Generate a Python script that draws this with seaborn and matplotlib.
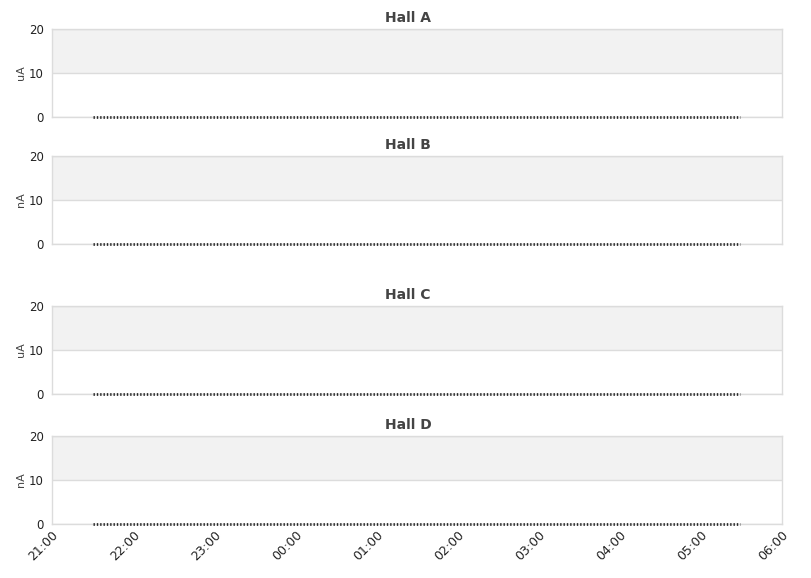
import matplotlib
matplotlib.use("Agg")
import matplotlib.pyplot as plt
import matplotlib.dates as mdates
import seaborn as sns
import pandas as pd

halls = ["Hall A", "Hall B", "Hall C", "Hall D"]
units = ["uA", "nA", "uA", "nA"]
times = ["2024-01-01 21:30", "2024-01-02 05:29"]
values_a = [0, 0]
values_b = [0, 0]
values_c = [0, 0]
values_d = [0, 0]
series = [values_a, values_b, values_c, values_d]
x_start = "2024-01-01 21:00"
x_end = "2024-01-02 06:00"
y_ticks = [0, 10, 20]

sns.set_theme(style="white")
plt.rcParams['font.family'] = ['DejaVu Sans']

W, H = 811, 578
fig = plt.figure(figsize=(W / 100, H / 100), dpi=100)

# panel tops/bottoms in pixels
panels = [(29, 117), (156, 244), (306, 394), (436, 524)]
left_px, right_px = 52, 782

grid_col = "#dcdcdc"
for i, (name, unit, vals, (top, bot)) in enumerate(zip(halls, units, series, panels)):
    ax = fig.add_axes([left_px / W, 1 - bot / H, (right_px - left_px) / W, (bot - top) / H])
    df = pd.DataFrame({"time": pd.to_datetime(times), "value": vals})
    ax.axhspan(10, 20, color="#f2f2f2", zorder=0, lw=0)
    for yv in y_ticks:
        ax.axhline(yv, color=grid_col, lw=1, zorder=1)
    sns.lineplot(data=df, x="time", y="value", ax=ax, color="#2a2a2a", lw=2.0,
                 zorder=3)
    ax.lines[-1].set_dashes((0.5, 0.7))
    ax.lines[-1].set_clip_on(False)
    ax.set_xlim(pd.Timestamp(x_start), pd.Timestamp(x_end))
    ax.set_ylim(0, 20)
    ax.set_yticks(y_ticks)
    ax.set_ylabel(unit, fontsize=8, color="#444444", labelpad=2)
    ax.set_xlabel("")
    for s in ax.spines.values():
        s.set_color(grid_col)
        s.set_linewidth(1)
    ax.tick_params(axis="y", length=0, labelsize=8.5, colors="#222222", pad=6)
    ax.xaxis.set_major_locator(mdates.HourLocator())
    ax.xaxis.set_major_formatter(mdates.DateFormatter("%H:%M"))
    if i < 3:
        ax.tick_params(axis="x", length=0, labelbottom=False)
    else:
        ax.tick_params(axis="x", length=0, labelsize=9, colors="#222222", pad=3)
        for lab in ax.get_xticklabels():
            lab.set_rotation(45)
            lab.set_ha("right")
            lab.set_rotation_mode("anchor")
    fig.text(408 / W, 1 - (top - 11) / H, name, ha="center", va="center",
             fontsize=10, fontweight="bold", color="#444444")

fig.savefig("out.png", dpi=100)
